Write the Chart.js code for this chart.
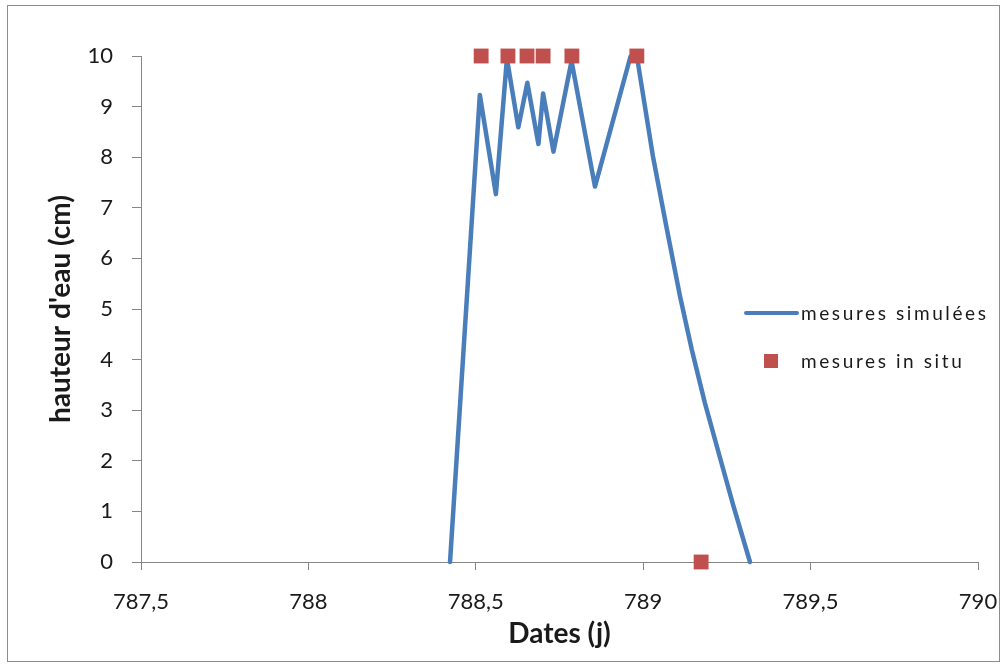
<!DOCTYPE html>
<html>
<head>
<meta charset="utf-8">
<script src="https://cdn.jsdelivr.net/npm/chart.js@4.4.1/dist/chart.umd.min.js"></script>
<style>
  html, body { margin: 0; padding: 0; background: #fff; }
  #wrap { position: relative; width: 1008px; height: 666px; }
  #frame { position: absolute; left: 7px; top: 5px; width: 993px; height: 657px; border: 1px solid #8c8c8c; box-sizing: border-box; pointer-events: none; }
  canvas { position: absolute; left: 0; top: 0; }
  .leg { position: absolute; font-family: Lato, "Open Sans", sans-serif; font-size: 19px; color: #1a1a1a; letter-spacing: 2.6px; white-space: nowrap; line-height: 22px; }
  .legline { position: absolute; height: 4px; background: #4A7EBB; border-radius: 2px; }
  .legsq { position: absolute; width: 14px; height: 14px; background: #C0504D; }
</style>
</head>
<body>
<div id="wrap">
  <canvas id="c" width="1008" height="666"></canvas>
  <div id="frame"></div>
  <div class="legline" style="left:744px; top:311px; width:55px;"></div>
  <div class="leg" style="left:801px; top:302px;">mesures simulées</div>
  <div class="legsq" style="left:764px; top:354px;"></div>
  <div class="leg" style="left:801px; top:350px;">mesures in situ</div>
</div>
<script>
// Simulated water height (line)
const simX = [788.423, 788.512, 788.560, 788.593, 788.627, 788.654, 788.687, 788.701, 788.732, 788.786, 788.856, 788.962, 788.981, 789.029, 789.070, 789.110, 789.145, 789.184, 789.229, 789.269, 789.319];
const simY = [0, 9.23, 7.27, 9.95, 8.59, 9.47, 8.26, 9.26, 8.11, 9.9, 7.42, 9.99, 10, 8.02, 6.60, 5.25, 4.20, 3.15, 2.07, 1.12, 0];
// In situ measurements (squares)
const obsX = [788.516, 788.596, 788.653, 788.701, 788.787, 788.981, 789.173];
const obsY = [10, 10, 10, 10, 10, 10, 0];
// Axis ticks
const xMin = 787.5, xMax = 790, xStep = 0.5;
const yMin = 0, yMax = 10, yStep = 1;
const labels = { x: 'Dates (j)', y: "hauteur d'eau (cm)", sim: 'mesures simulées', obs: 'mesures in situ' };

const axisColor = '#868686';
const tickFont = { family: 'Lato, "Open Sans", sans-serif', size: 22 };
const titleFont = { family: 'Lato, "Open Sans", sans-serif', size: 28, weight: 'bold' };

new Chart(document.getElementById('c'), {
  type: 'scatter',
  data: {
    datasets: [
      {
        label: labels.obs,
        data: obsX.map((x, i) => ({ x, y: obsY[i] })),
        pointStyle: 'rect',
        pointRadius: 10.5,
        pointBackgroundColor: '#C0504D',
        pointBorderWidth: 0,
        showLine: false,
        clip: false,
        order: 0
      },
      {
        label: labels.sim,
        data: simX.map((x, i) => ({ x, y: simY[i] })),
        showLine: true,
        borderColor: '#4A7EBB',
        borderWidth: 4.5,
        pointRadius: 0,
        tension: 0,
        borderJoinStyle: 'round',
        borderCapStyle: 'round',
        clip: false,
        order: 1
      }
    ]
  },
  options: {
    responsive: false,
    animation: false,
    events: [],
    layout: { padding: { left: 0, right: 30, top: 56, bottom: 0 } },
    plugins: { legend: { display: false }, tooltip: { enabled: false } },
    scales: {
      x: {
        type: 'linear',
        min: xMin, max: xMax,
        afterFit: s => { s.height = 104; s.paddingRight = 20; s.paddingLeft = 0; },
        grid: { drawOnChartArea: false, drawTicks: true, tickLength: 8, color: axisColor },
        border: { color: axisColor, width: 1 },
        ticks: {
          stepSize: xStep, padding: 19, color: '#1a1a1a', font: tickFont, maxRotation: 0,
          callback: v => (Number.isInteger(v) ? String(v) : v.toFixed(1).replace('.', ','))
        },
        title: { display: true, text: labels.x, color: '#1a1a1a', font: titleFont, padding: { top: 0, bottom: 15 } }
      },
      y: {
        type: 'linear',
        min: yMin, max: yMax,
        afterFit: s => { s.width = 141; },
        grid: { drawOnChartArea: false, drawTicks: true, tickLength: 9, color: axisColor },
        border: { color: axisColor, width: 1 },
        ticks: { stepSize: yStep, padding: 19, color: '#1a1a1a', font: tickFont },
        title: { display: true, text: labels.y, color: '#1a1a1a', font: titleFont, padding: { top: 44, bottom: 0 } }
      }
    }
  }
});
</script>
</body>
</html>
